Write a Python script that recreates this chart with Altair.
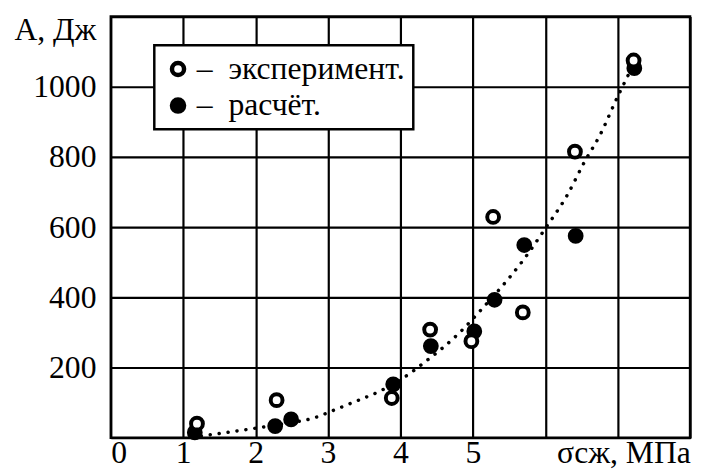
import altair as alt
import pandas as pd

# Experimental points (open circles)
exp_x = [1.19, 2.29, 3.88, 4.41, 4.98, 5.28, 5.69, 6.41, 7.22]
exp_y = [40, 107, 113, 308, 275, 629, 357, 815, 1075]

# Calculated points (filled circles)
calc_x = [1.16, 2.27, 2.49, 3.90, 4.42, 5.02, 5.30, 5.71, 6.42, 7.23]
calc_y = [15, 33, 52, 152, 261, 303, 393, 549, 575, 1053]

# Dotted trend curve
curve_x = [1.25, 1.6, 2.0, 2.4, 2.8, 3.1, 3.4, 3.7, 4.0, 4.34, 4.8, 5.16, 5.5, 5.7, 6.0, 6.3, 6.55, 6.75, 7.0, 7.15]
curve_y = [5, 15, 27, 40, 56, 80, 105, 131, 165, 216, 296, 375, 455, 507, 596, 690, 789, 860, 972, 1035]

series_names = ["эксперимент", "расчёт"]
x_ticks = [0, 1, 2, 3, 4, 5, 6, 7, 8]
y_ticks = [0, 200, 400, 600, 800, 1000, 1200]

FONT = "'Liberation Serif', 'DejaVu Serif', serif"

pts = pd.DataFrame({
    "x": calc_x + exp_x,
    "y": calc_y + exp_y,
    "s": [series_names[1]] * len(calc_x) + [series_names[0]] * len(exp_x),
})
curve = pd.DataFrame({"x": curve_x, "y": curve_y})

xs = alt.Scale(domain=[0, 8], nice=False)
ys = alt.Scale(domain=[0, 1200], nice=False)

x_axis = alt.Axis(
    values=x_ticks, format="d", labelExpr="datum.value <= 5 ? datum.label : ''",
    title="σсж, МПа", titleX=451, titleY=25, titleAlign="left",
    titleBaseline="alphabetic", titleFontWeight="normal", titleFontSize=32,
    titleFont=FONT, labelFont=FONT, labelFontSize=32, labelBaseline="alphabetic",
    labelPadding=25, labelColor="black", titleColor="black",
)
y_axis = alt.Axis(
    values=y_ticks, format="d",
    labelExpr="(datum.value > 0 && datum.value < 1200) ? datum.label : ''",
    title="А, Дж", titleAngle=0, titleX=-15, titleY=23, titleAlign="right",
    titleBaseline="alphabetic", titleFontWeight="normal", titleFontSize=32,
    titleFont=FONT, labelFont=FONT, labelFontSize=32, labelPadding=15,
    labelColor="black", titleColor="black",
)

line = alt.Chart(curve).mark_line(
    color="black", strokeWidth=3.5, strokeDash=[0.1, 9], strokeCap="round",
    interpolate="monotone",
).encode(
    x=alt.X("x:Q", scale=xs, axis=x_axis),
    y=alt.Y("y:Q", scale=ys, axis=y_axis),
)

points = alt.Chart(pts).mark_point(
    shape="circle", stroke="black", strokeWidth=4, size=143, opacity=1,
).encode(
    x=alt.X("x:Q", scale=xs),
    y=alt.Y("y:Q", scale=ys),
    fill=alt.Fill(
        "s:N",
        scale=alt.Scale(domain=series_names, range=["white", "black"]),
        legend=alt.Legend(
            title=None, orient="none", legendX=44, legendY=29, padding=8,
            strokeColor="black", fillColor="white",
            labelFont=FONT, labelFontSize=32, labelColor="black",
            labelLimit=400, labelOffset=3, rowPadding=5,
            symbolSize=150, symbolStrokeWidth=4.5, symbolStrokeColor="black",
            symbolType="circle", symbolOpacity=1,
            labelExpr="'–\u00a0\u00a0' + datum.label + '.'",
        ),
    ),
)

chart = alt.layer(line, points).properties(
    width=586, height=426,
    autosize=alt.AutoSizeParams(type="none"),
    padding={"left": 104, "top": 6, "right": 6, "bottom": 31},
).configure_view(
    stroke="black", strokeWidth=2.5,
).configure_axis(
    domain=False, ticks=False, grid=True, gridColor="black", gridWidth=2.2,
    gridOpacity=1,
).configure_legend(
    strokeWidth=2.5,
)

chart.save("out.html", embed_options={"renderer": "svg", "actions": False})
